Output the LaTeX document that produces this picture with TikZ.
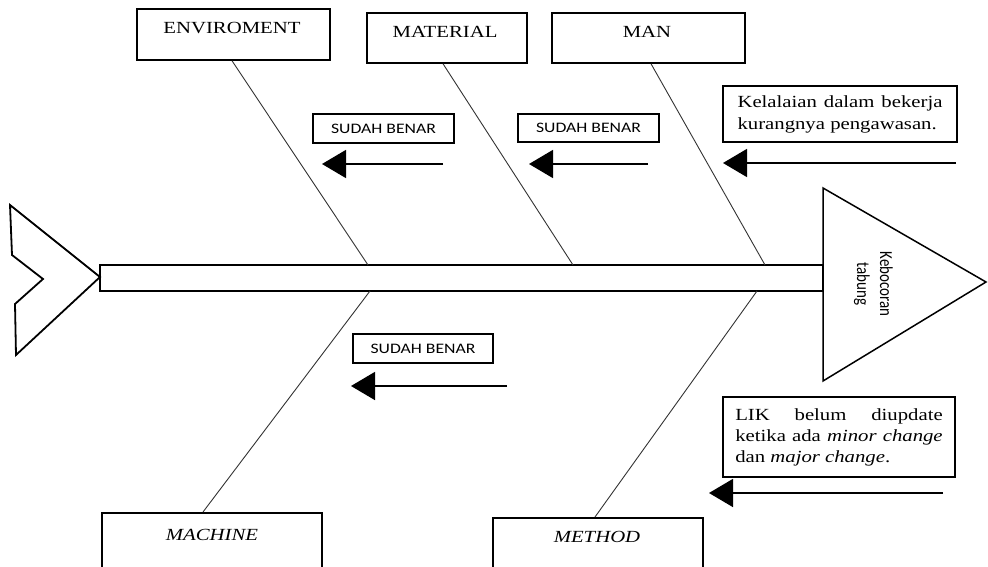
\documentclass[tikz,border=0pt]{standalone}
\usepackage{fontspec}
\setmainfont{Liberation Serif}
\newfontfamily\calfont{Carlito}
\usetikzlibrary{arrows.meta}
\newcommand{\wid}[1]{\scalebox{1.22}[1]{#1}}
\begin{document}
\begin{tikzpicture}[x=1pt,y=-1pt,
  box/.style={draw, line width=1.5pt, inner sep=0pt},
  bone/.style={draw=black!80, line width=0.9pt},
  arr/.style={line width=1.6pt, -{Triangle[length=24pt,width=28pt]}},
  cat/.style={font=\fontsize{17}{20}\selectfont, anchor=base, inner sep=0pt},
  okbox/.style={box, font=\calfont\fontsize{14.5}{17}\selectfont},
  note/.style={box, font=\fontsize{17}{22}\selectfont}]
\useasboundingbox (0,0) rectangle (988,567);
\clip (0,0) rectangle (988,567);
% fish skeleton
\node[draw, line width=2pt, inner sep=0pt, minimum width=723pt, minimum height=26pt] (spine) at (461.5,278) {};
\draw[line width=1.8pt, line join=miter] (10,205) -- (100,277) -- (16,355) -- (15,304) -- (43,279) -- (12,255) -- cycle;
\draw[line width=1.5pt, line join=miter] (823,188) -- (986,282) -- (823,381) -- cycle;
\node[rotate=-90, align=center, font=\calfont\fontsize{15}{22}\selectfont] (effect) at (874,284) {\scalebox{1}[1.22]{\begin{tabular}{@{}c@{}}Kebocoran\\[-3pt] tabung\end{tabular}}};
% category boxes
\node[box, minimum width=193pt, minimum height=51pt] (envbox) at (233.5,34.5) {};
\node[cat] (envtxt) at (232,34) {\wid{ENVIROMENT}};
\node[box, minimum width=160pt, minimum height=50pt] (matbox) at (447,38) {};
\node[cat] (mattxt) at (445,38) {\wid{MATERIAL}};
\node[box, minimum width=193pt, minimum height=50pt] (manbox) at (648.5,38) {};
\node[cat] (mantxt) at (647,38) {\wid{MAN}};
\node[box, minimum width=220pt, minimum height=70pt, anchor=north] (macbox) at (212,512) {};
\node[cat] (mactxt) at (212,540) {\wid{\textit{MACHINE}}};
\node[box, minimum width=210pt, minimum height=70pt, anchor=north] (metbox) at (598,517) {};
\node[cat] (mettxt) at (597,542) {\wid{\textit{METHOD}}};
% bones
\coordinate (envS) at (368,265);
\coordinate (matS) at (573,265);
\coordinate (manS) at (765,265);
\coordinate (macS) at (370,291);
\coordinate (metS) at (757,291);
\draw[bone] ([xshift=-1.5pt]envbox.south) -- (envS);
\draw[bone] ([xshift=-4pt]matbox.south) -- (matS);
\draw[bone] ([xshift=2.5pt]manbox.south) -- (manS);
\draw[bone] (macS) -- ([xshift=-9pt]macbox.north);
\draw[bone] (metS) -- ([xshift=-3pt]metbox.north);
% cause notes
\node[okbox, minimum width=141pt, minimum height=29pt] (ok1) at (383.5,128.5) {\wid{SUDAH BENAR}};
\node[okbox, minimum width=141pt, minimum height=28pt] (ok2) at (588.5,128) {\wid{SUDAH BENAR}};
\node[okbox, minimum width=140pt, minimum height=29pt] (ok3) at (423,348.5) {\wid{SUDAH BENAR}};
\node[note, minimum width=234pt, minimum height=56pt] (mannote) at (840,114) {\wid{\parbox{168pt}{\fontsize{17}{22}\selectfont Kelalaian dalam bekerja\linebreak kurangnya pengawasan.}}};
\node[note, minimum width=232pt, minimum height=80pt] (metnote) at (839,437) {\wid{\parbox{170pt}{\fontsize{17}{21}\selectfont LIK belum diupdate\linebreak ketika ada \textit{minor change}\linebreak dan \textit{major change}.}}};
% arrows
\coordinate (a1s) at (443,164); \coordinate (a1e) at (322,164);
\coordinate (a2s) at (648,164); \coordinate (a2e) at (529,164);
\coordinate (a3s) at (507,386); \coordinate (a3e) at (351,386);
\coordinate (a4s) at (956,163); \coordinate (a4e) at (723,163);
\coordinate (a5s) at (943,493); \coordinate (a5e) at (709,493);
\draw[arr] (a1s) -- (a1e);
\draw[arr] (a2s) -- (a2e);
\draw[arr] (a3s) -- (a3e);
\draw[arr] (a4s) -- (a4e);
\draw[arr] (a5s) -- (a5e);
\end{tikzpicture}
\end{document}
